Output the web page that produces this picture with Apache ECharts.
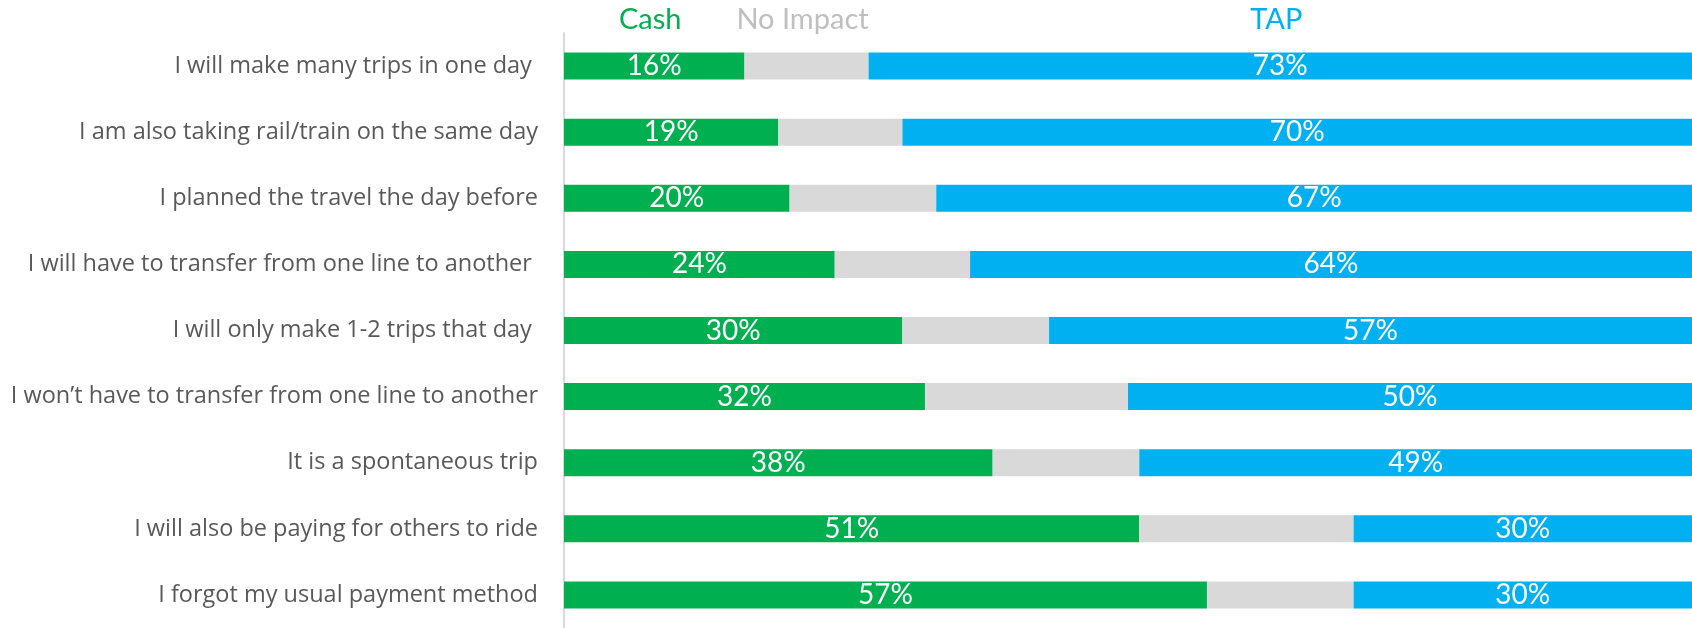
<!DOCTYPE html>
<html>
<head>
<meta charset="utf-8">
<script src="https://cdn.jsdelivr.net/npm/echarts@6/dist/echarts.min.js"></script>
<style>
  html, body { margin: 0; padding: 0; background: #fff; }
  #chart { width: 1692px; height: 628px; }
</style>
</head>
<body>
<div id="chart"></div>
<script>
// reasons, top to bottom
const categories = [
  'I will make many trips in one day ',
  'I am also taking rail/train on the same day',
  'I planned the travel the day before',
  'I will have to transfer from one line to another ',
  'I will only make 1-2 trips that day ',
  'I won\u2019t have to transfer from one line to another',
  'It is a spontaneous trip',
  'I will also be paying for others to ride',
  'I forgot my usual payment method'
];
const cashValues = [16, 19, 20, 24, 30, 32, 38, 51, 57];
const noImpactValues = [11, 11, 13, 12, 13, 18, 13, 19, 13];
const tapValues = [73, 70, 67, 64, 57, 50, 49, 30, 30];
const seriesNames = ['Cash', 'No Impact', 'TAP'];
const barColors = ['#00b050', '#d9d9d9', '#00b0f0'];
const headerColors = ['#00b050', '#bfbfbf', '#00b0f0'];

const FONT = 'Lato';
const chart = echarts.init(document.getElementById('chart'));

const valueLabel = {
  show: true,
  position: 'inside',
  color: '#fff',
  fontFamily: FONT,
  fontSize: 28,
  formatter: p => p.value + '%'
};

const allValues = [cashValues, noImpactValues, tapValues];

chart.setOption({
  animation: false,
  grid: { left: 564, right: 0, top: 33, height: 600 },
  xAxis: { type: 'value', min: 0, max: 100, show: false },
  yAxis: {
    type: 'category',
    inverse: true,
    data: categories,
    axisLine: { show: true, lineStyle: { color: '#d9d9d9', width: 2 } },
    axisTick: { show: false },
    axisLabel: { color: '#595959', fontFamily: 'Open Sans', fontSize: 23.5, margin: 26 }
  },
  series: allValues.map((vals, i) => ({
    name: seriesNames[i],
    type: 'bar',
    stack: 'total',
    barWidth: 27,
    itemStyle: { color: barColors[i] },
    label: i === 1 ? { show: false } : valueLabel,
    data: vals
  }))
});

// column headers sit above the first row's segments
let start = 0;
const headers = [];
allValues.forEach((vals, i) => {
  const mid = start + vals[0] / 2;
  start += vals[0];
  const pt = chart.convertToPixel({ gridIndex: 0 }, [mid, categories[0]]);
  headers.push({
    type: 'text',
    x: pt[0] - 4,
    y: pt[1] - 46,
    style: {
      text: seriesNames[i],
      fill: headerColors[i],
      fontFamily: FONT,
      fontSize: 29,
      textAlign: 'center',
      textVerticalAlign: 'middle'
    }
  });
});
chart.setOption({ graphic: headers });
</script>
</body>
</html>
